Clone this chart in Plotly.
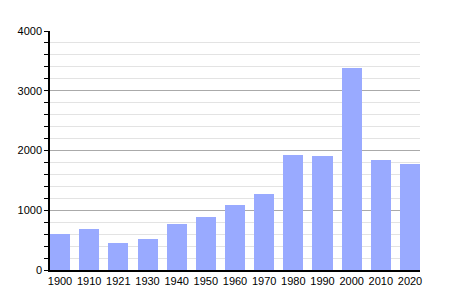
import plotly.graph_objects as go

years = ["1900", "1910", "1921", "1930", "1940", "1950", "1960", "1970", "1980", "1990", "2000", "2010", "2020"]
population = [597, 686, 457, 524, 775, 887, 1088, 1272, 1925, 1908, 3386, 1841, 1774]
y_ticks = [0, 1000, 2000, 3000, 4000]

xpos = list(range(len(years)))
bw = 0.686

fig = go.Figure(go.Bar(x=xpos, y=population, width=bw, marker=dict(color="#99AAFF", line=dict(width=0))))

fig.update_layout(
    width=450, height=300,
    margin=dict(l=50, r=30, t=31, b=30),
    paper_bgcolor="white", plot_bgcolor="white",
    font=dict(family="Liberation Sans, Arial", size=11, color="black"),
    showlegend=False,
    bargap=0,
)
fig.update_xaxes(
    range=[-bw / 2, len(years) - 1 + bw / 2],
    tickvals=xpos, ticktext=years,
    showgrid=False, zeroline=False,
    showline=True, linecolor="black", linewidth=1.5,
    ticks="", ticklen=0, tickfont=dict(size=11),
)
fig.update_yaxes(
    range=[0, 4000],
    tickvals=y_ticks,
    showgrid=True, gridcolor="#aaaaaa", gridwidth=1,
    zeroline=False,
    showline=True, linecolor="black", linewidth=1.5,
    ticks="outside", ticklen=4, tickcolor="black",
    minor=dict(dtick=200, ticks="outside", ticklen=4, tickcolor="black", showgrid=True, gridcolor="#e3e3e3", gridwidth=1),
    tickfont=dict(size=11),
)

fig.write_html("out.html")
